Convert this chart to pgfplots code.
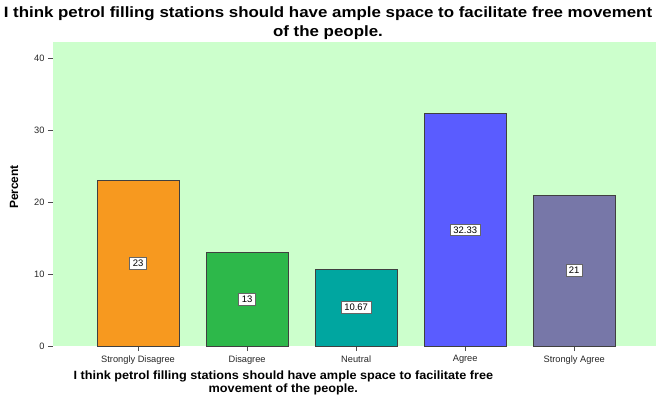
\documentclass[border=0pt]{standalone}
\usepackage{fontspec}
\setmainfont{Liberation Sans}
\newfontfamily\titlefont[FakeStretch=1.13]{Liberation Sans}
\newfontfamily\xlabfont[FakeStretch=1.06]{Liberation Sans}
\usepackage{pgfplots}
\pgfplotsset{compat=1.18}
\definecolor{bgc}{HTML}{CCFFCC}
\definecolor{c1}{HTML}{F7991F}
\definecolor{c2}{HTML}{2DB84A}
\definecolor{c3}{HTML}{00A6A0}
\definecolor{c4}{HTML}{5A5CFF}
\definecolor{c5}{HTML}{7777A8}
\begin{document}
\begin{tikzpicture}[x=1bp,y=1bp]
\path[use as bounding box] (0,0) rectangle (656,396);
\begin{axis}[
  at={(53bp,50bp)}, anchor=south west,
  scale only axis, width=603bp, height=304bp,
  xmin=-0.78, xmax=4.75, ymin=0, ymax=42.3,
  axis background/.style={fill=bgc},
  axis line style={draw=none},
  xtick={0,1,2,3,4},
  xticklabels={Strongly Disagree,Disagree,Neutral,Agree,Strongly Agree},
  ytick={0,10,20,30,40},
  tick align=outside, major tick length=5bp,
  x tick style={draw=black!70, line width=1pt},
  y tick style={draw=black!70, line width=0.8pt},
  xtick pos=bottom, ytick pos=left,
  tick label style={font=\fontsize{9.3}{10}\selectfont, text=black!85},
  /pgf/number format/assume math mode=true,
  xticklabel style={yshift=-1bp},
  title={I think petrol filling stations should have ample space to facilitate free movement\\[2bp]of the people.},
  title style={font=\titlefont\bfseries\fontsize{15}{17}\selectfont, align=center, at={(axis description cs:0.456,1.043)}, anchor=center},
  xlabel={I think petrol filling stations should have ample space to facilitate free\\movement of the people.},
  xlabel style={font=\xlabfont\bfseries\fontsize{12}{13}\selectfont, align=center, at={(axis description cs:0.382,-0.12)}, anchor=center},
  ylabel={Percent},
  ylabel style={font=\bfseries\fontsize{12}{13}\selectfont, at={(axis description cs:-0.0647,0.523)}, anchor=center},
  clip=false,
]
\addplot[ybar, bar width=82bp, bar shift=0pt, fill=c1, draw=black!75, line width=0.9pt] coordinates {(0,23)};
\addplot[ybar, bar width=82bp, bar shift=0pt, fill=c2, draw=black!75, line width=0.9pt] coordinates {(1,13)};
\addplot[ybar, bar width=82bp, bar shift=0pt, fill=c3, draw=black!75, line width=0.9pt] coordinates {(2,10.67)};
\addplot[ybar, bar width=82bp, bar shift=0pt, fill=c4, draw=black!75, line width=0.9pt] coordinates {(3,32.33)};
\addplot[ybar, bar width=82bp, bar shift=0pt, fill=c5, draw=black!75, line width=0.9pt] coordinates {(4,21)};
\addplot[draw=none, mark=none, point meta=explicit symbolic,
  nodes near coords,
  every node near coord/.append style={anchor=center, fill=white, draw=black!60, line width=0.9pt, inner xsep=3bp, inner ysep=2.5bp, font=\fontsize{9.5}{10}\selectfont}]
  coordinates {(0,11.5) [23] (1,6.5) [13] (2,5.335) [10.67] (3,16.165) [32.33] (4,10.5) [21]};
\end{axis}
\end{tikzpicture}
\end{document}
